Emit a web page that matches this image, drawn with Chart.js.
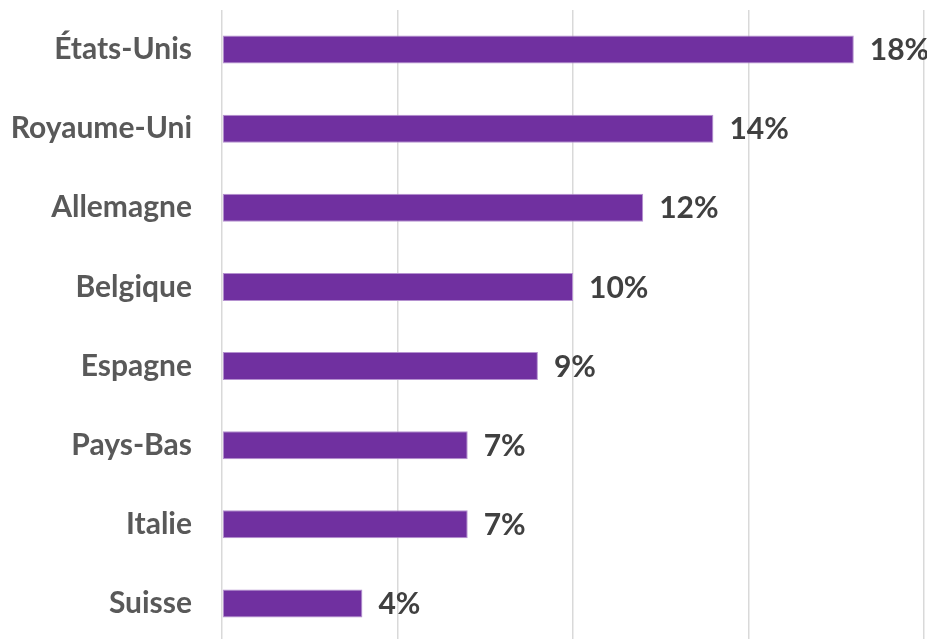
<!DOCTYPE html>
<html>
<head>
<meta charset="utf-8">
<script src="https://cdn.jsdelivr.net/npm/chart.js@4/dist/chart.umd.min.js"></script>
<style>
  html, body { margin: 0; padding: 0; background: #fff; overflow: hidden; }
  canvas { position: absolute; left: 0; top: 0; }
</style>
</head>
<body>
<canvas id="bar-graph" width="927" height="643"></canvas>
<script>
const countries = ['États-Unis', 'Royaume-Uni', 'Allemagne', 'Belgique', 'Espagne', 'Pays-Bas', 'Italie', 'Suisse'];
const shares = [18, 14, 12, 10, 9, 7, 7, 4];
const valueLabels = ['18%', '14%', '12%', '10%', '9%', '7%', '7%', '4%'];

const labelFont = { family: 'Lato', size: 30, weight: 'bold' };

// draw the % next to each bar
const barValues = {
    id: 'barValues',
    afterDatasetsDraw(chart) {
        const ctx = chart.ctx;
        const meta = chart.getDatasetMeta(0);
        ctx.save();
        ctx.font = 'bold 30px Lato';
        ctx.fillStyle = '#404040';
        ctx.textAlign = 'left';
        ctx.textBaseline = 'middle';
        meta.data.forEach((bar, i) => {
            ctx.fillText(valueLabels[i], bar.x + 16, bar.y + 1);
        });
        ctx.restore();
    }
};

const barChart = document.getElementById('bar-graph');

let barGraph = new Chart(barChart, {
    type: 'bar',
    data: {
        labels: countries,
        datasets: [{
            data: shares,
            backgroundColor: '#7030a0',
            borderColor: '#b591d0',
            borderWidth: 1,
            borderSkipped: false,
            barPercentage: 0.354,
            categoryPercentage: 1
        }]
    },
    options: {
        indexAxis: 'y',
        responsive: false,
        animation: false,
        layout: { padding: { top: 10, right: 3, left: 0, bottom: 0 } },
        plugins: {
            legend: { display: false },
            tooltip: { enabled: false }
        },
        scales: {
            x: {
                min: 0,
                max: 20,
                ticks: { stepSize: 5, display: false },
                grid: { color: '#d9d9d9', lineWidth: 1.5, drawTicks: false },
                border: { display: false }
            },
            y: {
                grid: { display: false, drawTicks: false },
                border: { display: false },
                ticks: { color: '#595959', font: labelFont, padding: 30 },
                afterFit(scale) {
                    scale.width = 222;
                    scale.paddingTop = 0;
                    scale.paddingBottom = 0;
                }
            }
        }
    },
    plugins: [barValues]
});
</script>
</body>
</html>
